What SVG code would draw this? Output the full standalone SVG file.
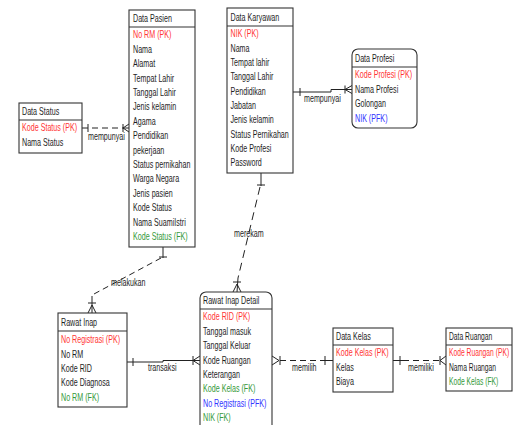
<svg xmlns="http://www.w3.org/2000/svg" width="513" height="425" viewBox="0 0 513 425">
  <style>
    .box { fill: #fff; stroke: #333; stroke-width: 1.1; }
    .sep { stroke: #333; stroke-width: 1.1; }
    .t { font-family: "Liberation Sans", Arial, sans-serif; font-size: 10.2px; fill: #1e1e1e; }
    .pk { fill: #ff3535; }
    .fk { fill: #36993a; }
    .pfk { fill: #3333ff; }
    .ln { stroke: #222; stroke-width: 1; fill: none; }
    .dash { stroke-dasharray: 6 4; }
    .dash2 { stroke-dasharray: 8 5; }
  </style>
  <rect width="513" height="425" fill="#fff"/>

  <!-- relationships -->
  <g id="connectors">
    <!-- Data Status - Data Pasien -->
    <path class="ln dash" d="M82 128 H123"/>
    <path class="ln" d="M88 124 V132 M123 124 V132 M123 128 L129 124 M123 128 L129 132 M123 128 H129"/>
    <g transform="translate(88 0) scale(0.7 1)"><text class="t" x="0" y="140.5">mempunyai</text></g>

    <!-- Data Karyawan - Data Profesi -->
    <path class="ln" d="M293 92 H331 V89.5 H352"/>
    <path class="ln" d="M300 88 V96 M345 85.5 V93.5 M345 89.5 L352 85.5 M345 89.5 L352 93.5"/>
    <g transform="translate(304 0) scale(0.7 1)"><text class="t" x="0" y="102.5">mempunyai</text></g>

    <!-- Data Pasien - Rawat Inap -->
    <path class="ln" d="M163 247 V258 M159 257 H167"/>
    <path class="ln dash" d="M161 258 L94 294"/>
    <path class="ln" d="M92 296 V313 M88 303 H96 M92 305 L88 313 M92 305 L96 313"/>
    <g transform="translate(111 0) scale(0.7 1)"><text class="t" x="0" y="286.5">melakukan</text></g>

    <!-- Data Karyawan - Rawat Inap Detail -->
    <path class="ln" d="M261 173 V186 M257 185 H265"/>
    <path class="ln dash2" d="M260 187 L238 278"/>
    <path class="ln" d="M238 278 L237 292 M233 282 H241 M237 284 L233 292 M237 284 L241 292"/>
    <g transform="translate(234 0) scale(0.7 1)"><text class="t" x="0" y="237">merekam</text></g>

    <!-- Rawat Inap - Rawat Inap Detail -->
    <path class="ln" d="M127 362 H163 V360.5 H200"/>
    <path class="ln" d="M133 358 V366 M193 356 V365 M193 360.5 L200 356 M193 360.5 L200 365"/>
    <g transform="translate(148 0) scale(0.7 1)"><text class="t" x="0" y="371.5">transaksi</text></g>

    <!-- Rawat Inap Detail - Data Kelas -->
    <path class="ln dash" d="M280 360.5 H333"/>
    <path class="ln" d="M272 356 L279 360.5 L272 365 M280 356 V365 M325 356 V365 M325 360.5 H333"/>
    <g transform="translate(292 0) scale(0.7 1)"><text class="t" x="0" y="371.5">memilih</text></g>

    <!-- Data Kelas - Data Ruangan -->
    <path class="ln dash" d="M393 360.5 H440"/>
    <path class="ln" d="M393 360.5 H404 M400 356 V365 M440 356 V365 M440 360.5 L446 356 M440 360.5 L446 365"/>
    <g transform="translate(408 0) scale(0.7 1)"><text class="t" x="0" y="371.5">memiliki</text></g>
  </g>

  <!-- Data Pasien -->
  <g id="data-pasien">
    <rect class="box" x="129" y="10" width="66" height="237"/>
    <line class="sep" x1="129" y1="27" x2="195" y2="27"/>
    <g transform="translate(133 0) scale(0.7 1)">
      <text class="t" x="0" y="22">Data Pasien</text>
      <text class="t pk" x="0" y="38.5">No RM (PK)</text>
      <text class="t" x="0" y="52.9">Nama</text>
      <text class="t" x="0" y="67.3">Alamat</text>
      <text class="t" x="0" y="81.7">Tempat Lahir</text>
      <text class="t" x="0" y="96.1">Tanggal Lahir</text>
      <text class="t" x="0" y="110.5">Jenis kelamin</text>
      <text class="t" x="0" y="124.9">Agama</text>
      <text class="t" x="0" y="139.3">Pendidikan</text>
      <text class="t" x="0" y="153.7">pekerjaan</text>
      <text class="t" x="0" y="168.1">Status pernikahan</text>
      <text class="t" x="0" y="182.5">Warga Negara</text>
      <text class="t" x="0" y="196.9">Jenis pasien</text>
      <text class="t" x="0" y="211.3">Kode Status</text>
      <text class="t" x="0" y="225.7">Nama SuamiIstri</text>
      <text class="t fk" x="0" y="240.1">Kode Status (FK)</text>
    </g>
  </g>

  <!-- Data Status -->
  <g id="data-status">
    <rect class="box" x="19" y="103" width="63" height="50"/>
    <line class="sep" x1="19" y1="120" x2="82" y2="120"/>
    <g transform="translate(22 0) scale(0.7 1)">
      <text class="t" x="0" y="115">Data Status</text>
      <text class="t pk" x="0" y="131.5">Kode Status (PK)</text>
      <text class="t" x="0" y="146">Nama Status</text>
    </g>
  </g>

  <!-- Data Karyawan -->
  <g id="data-karyawan">
    <rect class="box" x="227" y="8" width="66" height="165"/>
    <line class="sep" x1="227" y1="26" x2="293" y2="26"/>
    <g transform="translate(230.5 0) scale(0.7 1)">
      <text class="t" x="0" y="21">Data Karyawan</text>
      <text class="t pk" x="0" y="37.5">NIK (PK)</text>
      <text class="t" x="0" y="51.8">Nama</text>
      <text class="t" x="0" y="66.1">Tempat lahir</text>
      <text class="t" x="0" y="80.4">Tanggal Lahir</text>
      <text class="t" x="0" y="94.7">Pendidikan</text>
      <text class="t" x="0" y="109">Jabatan</text>
      <text class="t" x="0" y="123.3">Jenis kelamin</text>
      <text class="t" x="0" y="137.6">Status Pernikahan</text>
      <text class="t" x="0" y="151.9">Kode Profesi</text>
      <text class="t" x="0" y="166.2">Password</text>
    </g>
  </g>

  <!-- Data Profesi -->
  <g id="data-profesi">
    <rect class="box" x="352" y="49" width="65" height="79" rx="6"/>
    <line class="sep" x1="352" y1="67" x2="417" y2="67"/>
    <g transform="translate(355 0) scale(0.7 1)">
      <text class="t" x="0" y="62">Data Profesi</text>
      <text class="t pk" x="0" y="78.5">Kode Profesi (PK)</text>
      <text class="t" x="0" y="92.9">Nama Profesi</text>
      <text class="t" x="0" y="107.3">Golongan</text>
      <text class="t pfk" x="0" y="121.7">NIK (PFK)</text>
    </g>
  </g>

  <!-- Rawat Inap -->
  <g id="rawat-inap">
    <rect class="box" x="58" y="313" width="69" height="94"/>
    <line class="sep" x1="58" y1="331" x2="127" y2="331"/>
    <g transform="translate(61 0) scale(0.7 1)">
      <text class="t" x="0" y="326.5">Rawat Inap</text>
      <text class="t pk" x="0" y="343.5">No Registrasi  (PK)</text>
      <text class="t" x="0" y="357.8">No RM</text>
      <text class="t" x="0" y="372.1">Kode RID</text>
      <text class="t" x="0" y="386.4">Kode Diagnosa</text>
      <text class="t fk" x="0" y="400.7">No RM (FK)</text>
    </g>
  </g>

  <!-- Rawat Inap Detail -->
  <g id="rawat-inap-detail">
    <rect class="box" x="200" y="292" width="72" height="150" rx="6"/>
    <line class="sep" x1="200" y1="309" x2="272" y2="309"/>
    <g transform="translate(203 0) scale(0.7 1)">
      <text class="t" x="0" y="304.5">Rawat Inap Detail</text>
      <text class="t pk" x="0" y="320.5">Kode RID (PK)</text>
      <text class="t" x="0" y="334.9">Tanggal masuk</text>
      <text class="t" x="0" y="349.3">Tanggal Keluar</text>
      <text class="t" x="0" y="363.7">Kode Ruangan</text>
      <text class="t" x="0" y="378.1">Keterangan</text>
      <text class="t fk" x="0" y="392.5">Kode Kelas (FK)</text>
      <text class="t pfk" x="0" y="406.9">No Registrasi  (PFK)</text>
      <text class="t fk" x="0" y="421.3">NIK (FK)</text>
    </g>
  </g>

  <!-- Data Kelas -->
  <g id="data-kelas">
    <rect class="box" x="333" y="328" width="60" height="64"/>
    <line class="sep" x1="333" y1="345" x2="393" y2="345"/>
    <g transform="translate(336 0) scale(0.7 1)">
      <text class="t" x="0" y="340">Data Kelas</text>
      <text class="t pk" x="0" y="356.5">Kode Kelas (PK)</text>
      <text class="t" x="0" y="370.8">Kelas</text>
      <text class="t" x="0" y="385.1">Biaya</text>
    </g>
  </g>

  <!-- Data Ruangan -->
  <g id="data-ruangan">
    <rect class="box" x="446" y="328" width="66" height="63"/>
    <line class="sep" x1="446" y1="345" x2="512" y2="345"/>
    <g transform="translate(449 0) scale(0.66 1)">
      <text class="t" x="0" y="340">Data Ruangan</text>
      <text class="t pk" x="0" y="356.5">Kode Ruangan (PK)</text>
      <text class="t" x="0" y="370.8">Nama Ruangan</text>
      <text class="t fk" x="0" y="385.1">Kode Kelas (FK)</text>
    </g>
  </g>
</svg>
